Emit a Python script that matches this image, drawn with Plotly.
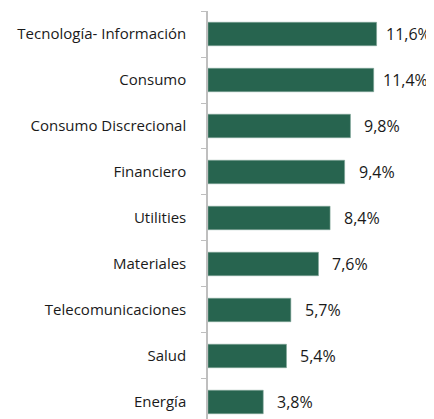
import plotly.graph_objects as go

categories = ["Tecnología- Información", "Consumo", "Consumo Discrecional", "Financiero",
              "Utilities", "Materiales", "Telecomunicaciones", "Salud", "Energía"]
values = [11.6, 11.4, 9.8, 9.4, 8.4, 7.6, 5.7, 5.4, 3.8]
labels = [f"{v:.1f}".replace(".", ",") + "%" for v in values]

BAR = "#27644F"
TXT = "#1a1a1a"
FONT = "Open Sans"

fig = go.Figure(go.Bar(
    x=values, y=categories, orientation="h",
    marker=dict(color=BAR, line=dict(color="#7fa597", width=0.6)),
    width=0.51, hoverinfo="skip",
))

for v, c, t in zip(values, categories, labels):
    fig.add_annotation(x=v, y=c, text=t, showarrow=False, xanchor="center",
                       xshift=32, font=dict(family=FONT, size=16, color=TXT))

# page body has an 8px margin, so the figure is sized to fit the window
fig.update_layout(
    width=426, height=411,
    margin=dict(l=200, r=0, t=3, b=0),
    paper_bgcolor="white", plot_bgcolor="white",
    showlegend=False,
    xaxis=dict(range=[0, 15.55], visible=False, fixedrange=True),
    yaxis=dict(
        type="category", categoryorder="array", categoryarray=categories,
        range=[8.37, -0.5], showline=True, linecolor="#BFBFBF", linewidth=1.5,
        ticks="outside", tickson="boundaries", ticklen=5, tickcolor="#BFBFBF", tickwidth=1.3,
        tickfont=dict(family=FONT, size=15, color=TXT), ticklabelstandoff=17,
        showgrid=False, zeroline=False, automargin=False,
    ),
)

fig.write_html("out.html")
